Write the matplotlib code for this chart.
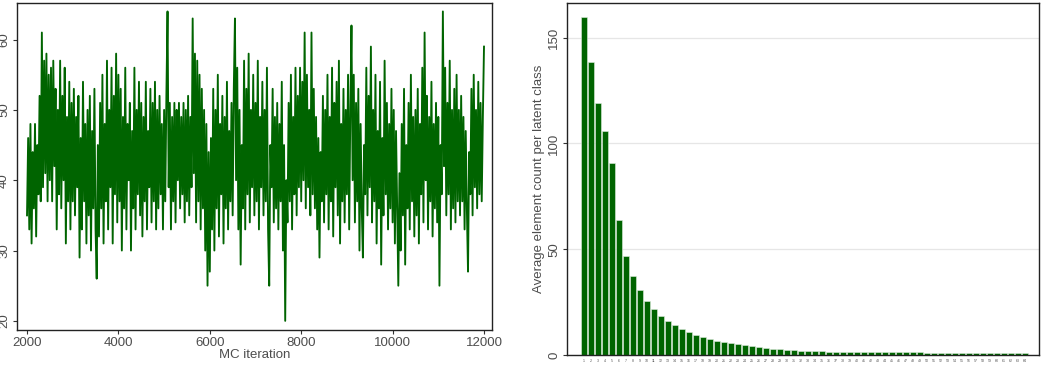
import matplotlib
matplotlib.use("Agg")
import numpy as np
from matplotlib import pyplot as plt

plt.rcParams['font.family'] = ['Liberation Sans', 'DejaVu Sans']

# MC trace of the number of occupied classes (every 25 iterations)
trace_start = 2000
trace_step = 25
trace_values = [
    35, 46, 33, 48, 31, 44, 36, 48, 32, 45, 38, 52, 37, 61, 39, 57, 41, 58, 37, 55,
    40, 56, 37, 57, 42, 53, 33, 50, 38, 57, 36, 52, 40, 56, 31, 49, 37, 54, 33, 51,
    37, 53, 35, 49, 39, 52, 29, 46, 33, 54, 37, 48, 31, 50, 35, 52, 30, 47, 36, 53,
    33, 26, 45, 32, 51, 36, 55, 31, 48, 37, 57, 33, 50, 39, 56, 31, 52, 38, 58, 34,
    55, 37, 53, 30, 49, 36, 56, 33, 48, 40, 51, 30, 47, 36, 56, 33, 50, 38, 54, 35,
    51, 32, 49, 37, 54, 33, 47, 39, 53, 34, 51, 37, 54, 33, 50, 36, 52, 38, 48, 33,
    50, 37, 52, 64, 39, 51, 33, 49, 37, 51, 34, 50, 40, 51, 36, 49, 38, 51, 34, 50,
    37, 52, 35, 49, 39, 63, 41, 58, 34, 57, 37, 55, 33, 53, 36, 50, 30, 48, 25, 44,
    27, 46, 33, 53, 30, 50, 36, 55, 32, 48, 38, 52, 31, 49, 36, 54, 33, 47, 37, 51,
    35, 53, 63, 40, 56, 33, 50, 28, 45, 36, 57, 33, 53, 38, 58, 34, 50, 39, 55, 35,
    51, 37, 57, 33, 49, 39, 54, 35, 50, 37, 56, 33, 25, 45, 39, 53, 34, 49, 36, 51,
    33, 48, 37, 54, 30, 45, 20, 40, 34, 51, 37, 55, 33, 49, 38, 56, 35, 52, 39, 56,
    37, 54, 40, 61, 36, 55, 39, 50, 35, 61, 38, 53, 36, 49, 33, 46, 29, 44, 37, 52,
    34, 50, 38, 55, 33, 49, 37, 56, 32, 51, 39, 54, 35, 57, 31, 48, 37, 53, 34, 50,
    38, 55, 33, 50, 62, 40, 55, 34, 51, 37, 53, 30, 48, 36, 29, 45, 38, 56, 35, 52,
    39, 59, 34, 50, 37, 55, 31, 47, 36, 54, 28, 46, 35, 57, 38, 51, 33, 48, 36, 53,
    34, 50, 31, 47, 36, 25, 41, 30, 48, 35, 53, 28, 45, 36, 51, 33, 55, 37, 49, 32,
    50, 35, 53, 31, 48, 38, 56, 34, 61, 40, 52, 33, 49, 37, 54, 32, 48, 36, 51, 34,
    49, 25, 45, 38, 64, 42, 56, 35, 51, 38, 57, 33, 50, 36, 53, 34, 55, 37, 50, 35,
    52, 37, 49, 33, 47, 36, 27, 44, 38, 53, 35, 55, 39, 50, 36, 54, 38, 51, 37, 49,
    59,
]

# average element count per latent class
class_labels = [str(i) for i in range(1, 65)]
class_counts = [
    160, 138.5, 119, 106, 91, 64, 47, 37.5, 30.7, 25.7,
    21.6, 18.6, 16, 14, 12.3, 10.7, 9.5, 8.4, 7.5, 6.8,
    6.1, 5.5, 5.0, 4.5, 4.1, 3.7, 3.3, 3.0, 2.7, 2.5,
    2.3, 2.1, 1.95, 1.85, 1.75, 1.65, 1.6, 1.55, 1.5, 1.45,
    1.4, 1.38, 1.35, 1.32, 1.3, 1.28, 1.25, 1.22, 1.2, 1.18,
    1.15, 1.12, 1.1, 1.08, 1.06, 1.05, 1.04, 1.03, 1.02, 1.01,
    1.0, 1.0, 1.0, 1.0,
]

green = '#006400'
txt = '#4d4d4d'

fig = plt.figure(figsize=(10.45, 3.71), dpi=100)
W, H = 1045, 371

# left panel: trace plot
ax1 = fig.add_axes([17 / W, 1 - 330 / H, (492 - 17) / W, (330 - 3) / H])
iters = trace_start + trace_step * np.arange(len(trace_values))
ax1.plot(iters, trace_values, color=green, linewidth=1.35)
ax1.set_xlim(1781, 12175)
ax1.set_ylim(18.7, 65.2)
ax1.set_xticks([2000, 4000, 6000, 8000, 10000, 12000])
ax1.set_yticks([20, 30, 40, 50, 60])
ax1.set_xlabel('MC iteration', fontsize=9.5, color=txt, labelpad=0)
ax1.tick_params(labelsize=9.5, length=3, color='#333333', labelcolor=txt, pad=2)
for lbl in ax1.get_yticklabels():
    lbl.set_rotation(90)
    lbl.set_va('center')

# right panel: bar chart
ax2 = fig.add_axes([567 / W, 1 - 355 / H, (1039 - 567) / W, (355 - 3) / H])
pos = np.arange(1, len(class_counts) + 1)
ax2.bar(pos, class_counts, width=0.82, color=green, edgecolor='#dfeedf', linewidth=0.4, zorder=2)
ax2.set_xlim(-1.4, 66)
ax2.set_ylim(0, 166.4)
ax2.set_yticks([0, 50, 100, 150])
ax2.set_xticks(pos)
ax2.set_xticklabels(class_labels, fontsize=2.6, color='#555555')
ax2.tick_params(axis='x', length=0, pad=3)
ax2.tick_params(axis='y', labelsize=9.5, length=3, color='#333333', labelcolor=txt, pad=2)
for lbl in ax2.get_yticklabels():
    lbl.set_rotation(90)
    lbl.set_va('center')
ax2.yaxis.grid(True, color='#e6e6e6', linewidth=0.9, zorder=0)
ax2.set_axisbelow(True)
ax2.set_ylabel('Average element count per latent class', fontsize=9.5, color=txt, labelpad=2)

for ax in (ax1, ax2):
    for s in ax.spines.values():
        s.set_linewidth(1.0)
        s.set_color('#222222')

fig.savefig('out.png', dpi=100)
